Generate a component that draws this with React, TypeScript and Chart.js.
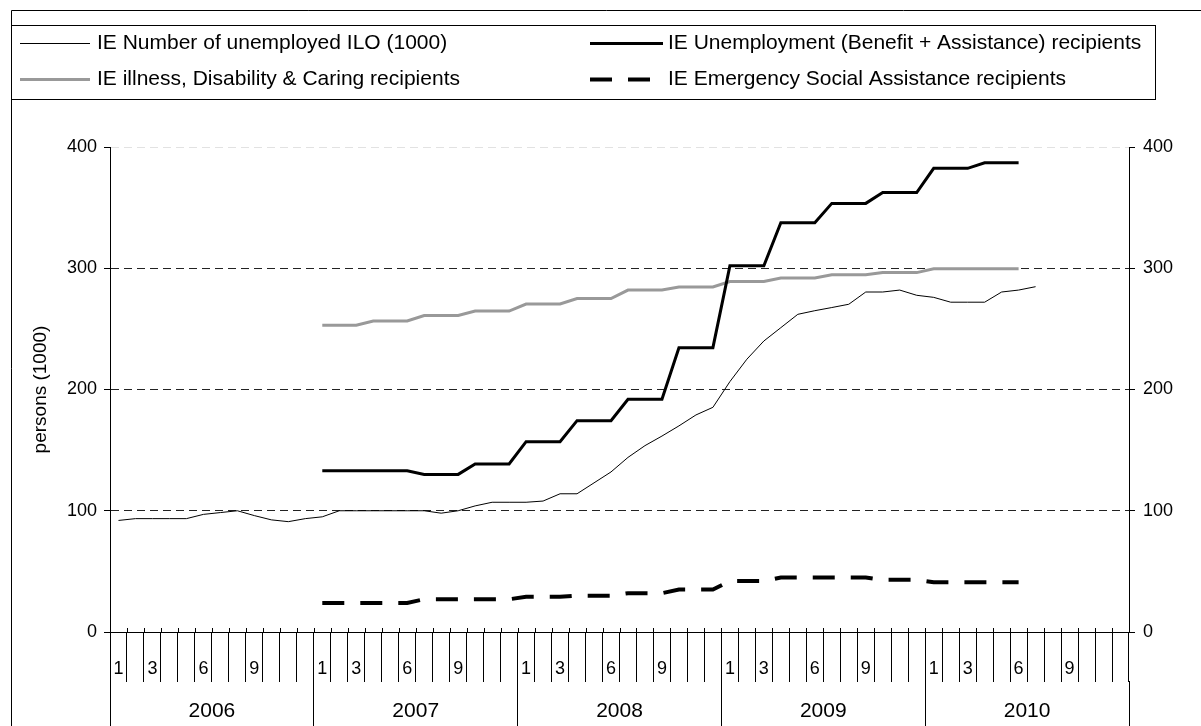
import React, { useEffect, useRef } from 'react';
import { Chart, registerables } from 'chart.js';

Chart.register(...registerables);

const years = ['2006', '2007', '2008', '2009', '2010'];
const monthNumbers = ['1', '2', '3', '4', '5', '6', '7', '8', '9', '10', '11', '12'];
const shownMonths = ['1', '3', '6', '9'];
const categories = years.flatMap((y) => monthNumbers.map((m) => `${y}-${m}`));

const iloUnemployed = [
  92, 93.5, 93.5, 93.5, 93.5, 97, 98.5, 100, 96, 92.5, 91, 93.5,
  95, 100, 100, 100, 100, 100, 100, 98, 100, 104, 107, 107,
  107, 108, 114, 114, 123, 132, 144, 153.7, 161.6, 170, 179, 185.3,
  206.5, 225, 240, 251, 262, 265, 267.6, 270.3, 280.4, 280.4, 282, 277.7,
  276, 272, 272, 272, 280.4, 282, 284.8, null, null, null, null, null,
];

const benefitAssistance = [
  null, null, null, null, null, null, null, null, null, null, null, null,
  133, 133, 133, 133, 133, 133, 130, 130, 130, 138.6, 138.6, 138.6,
  157, 157, 157, 174.3, 174.3, 174.3, 192, 192, 192, 234.5, 234.5, 234.5,
  302, 302, 302, 337.6, 337.6, 337.6, 353.5, 353.5, 353.5, 362.4, 362.4, 362.4,
  382.4, 382.4, 382.4, 387, 387, 387, null, null, null, null, null, null,
];

const illnessDisability = [
  null, null, null, null, null, null, null, null, null, null, null, null,
  253, 253, 253, 256.5, 256.5, 256.5, 261, 261, 261, 264.7, 264.7, 264.7,
  270.5, 270.5, 270.5, 275, 275, 275, 282, 282, 282, 284.5, 284.5, 284.5,
  289, 289, 289, 292, 292, 292, 294.7, 294.7, 294.7, 296.4, 296.4, 296.4,
  299.5, 299.5, 299.5, 299.5, 299.5, 299.5, null, null, null, null, null, null,
];

const emergencySocial = [
  null, null, null, null, null, null, null, null, null, null, null, null,
  24, 24, 24, 24, 24, 24, 27, 27, 27, 27, 27, 27,
  29, 29, 29, 30, 30, 30, 32, 32, 32, 35, 35, 35,
  42, 42, 42, 45, 45, 45, 45, 45, 45, 43, 43, 43,
  41, 41, 41, 41, 41, 41, null, null, null, null, null, null,
];

const yTicks = [0, 100, 200, 300, 400];

const FONT = "'Liberation Sans', Arial, Helvetica, sans-serif";

const framePlugin = {
  id: 'frameAndLegend',
  afterDraw(chart: any) {
    const ctx = chart.ctx;
    ctx.save();
    ctx.strokeStyle = '#000';
    ctx.lineWidth = 1;
    ctx.setLineDash([]);
    // outer frame
    ctx.beginPath();
    ctx.moveTo(11.5, 726);
    ctx.lineTo(11.5, 10.5);
    ctx.lineTo(1201, 10.5);
    ctx.stroke();
    // legend box
    ctx.strokeRect(11.5, 25.5, 1144, 74);

    // small month ticks inside the plot above the axis
    const xs = chart.scales.x;
    const half = (xs.getPixelForValue(1) - xs.getPixelForValue(0)) / 2;
    const bottom = chart.chartArea.bottom;
    ctx.beginPath();
    for (let i = 0; i <= categories.length; i++) {
      const px = Math.round(xs.getPixelForValue(i) - half) + 0.5;
      ctx.moveTo(px, bottom - 4);
      ctx.lineTo(px, bottom);
    }
    ctx.stroke();

    // legend entries
    const slots = [
      { x0: 20, x1: 90, tx: 97, y: 43 },
      { x0: 590, x1: 663, tx: 668, y: 43 },
      { x0: 20, x1: 90, tx: 97, y: 79 },
      { x0: 590, x1: 650, tx: 668, y: 79 },
    ];
    ctx.font = `21px ${FONT}`;
    ctx.textBaseline = 'middle';
    ctx.textAlign = 'left';
    chart.data.datasets.forEach((ds: any, i: number) => {
      const s = slots[i];
      ctx.save();
      ctx.strokeStyle = ds.borderColor;
      ctx.lineWidth = ds.borderWidth;
      ctx.setLineDash(ds.borderDash || []);
      ctx.beginPath();
      ctx.moveTo(s.x0, s.y + 0.5);
      ctx.lineTo(s.x1, s.y + 0.5);
      ctx.stroke();
      ctx.restore();
      ctx.fillStyle = '#000';
      ctx.fillText(ds.label, s.tx, s.y);
    });
    ctx.restore();
  },
};

export default function App() {
  const canvasRef = useRef<HTMLCanvasElement | null>(null);

  useEffect(() => {
    document.body.style.margin = '0';
    const canvas = canvasRef.current;
    if (!canvas) return;
    Chart.defaults.font.family = FONT;
    Chart.defaults.color = '#000';

    const chart = new Chart(canvas, {
      type: 'line',
      data: {
        labels: categories,
        datasets: [
          {
            label: 'IE Number of unemployed ILO (1000)',
            data: iloUnemployed,
            borderColor: '#000000',
            borderWidth: 1,
            pointRadius: 0,
            tension: 0,
            fill: false,
            order: 1,
          },
          {
            label: 'IE Unemployment (Benefit + Assistance) recipients',
            data: benefitAssistance,
            borderColor: '#000000',
            borderWidth: 3,
            pointRadius: 0,
            tension: 0,
            fill: false,
            order: 0,
          },
          {
            label: 'IE illness, Disability & Caring recipients',
            data: illnessDisability,
            borderColor: '#999999',
            borderWidth: 3,
            pointRadius: 0,
            tension: 0,
            fill: false,
            order: 2,
          },
          {
            label: 'IE Emergency Social Assistance recipients',
            data: emergencySocial,
            borderColor: '#000000',
            borderWidth: 4,
            borderDash: [22, 16],
            pointRadius: 0,
            tension: 0,
            fill: false,
            order: 3,
          },
        ],
      },
      options: {
        responsive: false,
        animation: false,
        devicePixelRatio: 1,
        layout: { padding: { top: 147, left: 0, right: 0, bottom: 0 } },
        plugins: {
          legend: { display: false },
          tooltip: { enabled: false },
          title: { display: false },
        },
        scales: {
          x: {
            type: 'category',
            position: 'bottom',
            offset: true,
            weight: 0,
            grid: {
              display: true,
              offset: true,
              drawOnChartArea: false,
              drawTicks: true,
              tickLength: 50,
              color: '#000',
              tickColor: '#000',
              lineWidth: 1,
            },
            border: { display: true, color: '#000', width: 1 },
            ticks: {
              autoSkip: false,
              maxRotation: 0,
              minRotation: 0,
              padding: -24,
              font: { size: 18 },
              color: '#000',
              callback: (_v: any, i: number) => {
                const m = monthNumbers[i % 12];
                return shownMonths.includes(m) ? m : '';
              },
            },
            afterFit: (s: any) => {
              s.height = 49;
            },
          },
          year: {
            type: 'category',
            position: 'bottom',
            labels: years,
            offset: true,
            weight: 1,
            grid: {
              display: true,
              offset: true,
              drawOnChartArea: false,
              drawTicks: true,
              tickLength: 45,
              color: '#000',
              tickColor: '#000',
            },
            border: { display: false },
            ticks: {
              autoSkip: false,
              maxRotation: 0,
              padding: -27,
              font: { size: 21 },
              color: '#000',
            },
            afterFit: (s: any) => {
              s.height = 45;
            },
          },
          y: {
            type: 'linear',
            position: 'left',
            min: 0,
            max: 400,
            afterBuildTicks: (s: any) => {
              s.ticks = yTicks.map((v) => ({ value: v }));
            },
            grid: {
              display: true,
              drawOnChartArea: true,
              drawTicks: true,
              tickLength: 6,
              tickColor: '#000',
              color: (c: any) =>
                c.tick && c.tick.value === 400
                  ? '#e2e2e2'
                  : c.tick && c.tick.value === 0
                  ? 'rgba(0,0,0,0)'
                  : '#222',
            },
            border: { display: true, color: '#000', width: 1, dash: [8, 5] },
            ticks: { padding: 7, font: { size: 18 }, color: '#000' },
            title: {
              display: true,
              text: 'persons (1000)',
              font: { size: 19 },
              color: '#000',
              padding: { top: 29, bottom: 0 },
            },
            afterFit: (s: any) => {
              s.width = 110;
            },
          },
          y2: {
            type: 'linear',
            position: 'right',
            min: 0,
            max: 400,
            afterBuildTicks: (s: any) => {
              s.ticks = yTicks.map((v) => ({ value: v }));
            },
            grid: {
              display: true,
              drawOnChartArea: false,
              drawTicks: true,
              tickLength: 6,
              tickColor: '#000',
              color: '#000',
            },
            border: { display: true, color: '#000', width: 1 },
            ticks: { padding: 8, font: { size: 18 }, color: '#000' },
            afterFit: (s: any) => {
              s.width = 72;
            },
          },
        },
      } as any,
      plugins: [framePlugin],
    });

    return () => {
      chart.destroy();
    };
  }, []);

  return (
    <div style={{ width: 1201, height: 726, position: 'relative', background: '#fff' }}>
      <canvas ref={canvasRef} width={1201} height={726} style={{ display: 'block' }} />
    </div>
  );
}
